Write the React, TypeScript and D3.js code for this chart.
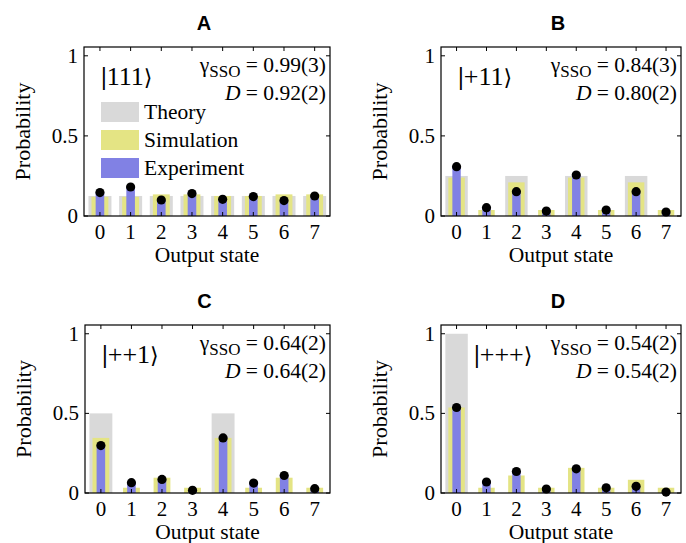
import React from 'react';
import * as d3 from 'd3';

// output states 0..7
const states = [0, 1, 2, 3, 4, 5, 6, 7];
const yTicks = [0, 0.5, 1];

// panel A |111>
const theoryA = [0.125, 0.125, 0.125, 0.125, 0.125, 0.125, 0.125, 0.125];
const simA = [0.12, 0.12, 0.135, 0.135, 0.125, 0.125, 0.135, 0.135];
const expA = [0.146, 0.181, 0.1, 0.14, 0.104, 0.121, 0.096, 0.125];

// panel B |+11>
const theoryB = [0.25, 0, 0.25, 0, 0.25, 0, 0.25, 0];
const simB = [0.24, 0.0375, 0.21, 0.0375, 0.24, 0.0375, 0.21, 0.0375];
const expB = [0.308, 0.052, 0.152, 0.031, 0.256, 0.0375, 0.152, 0.025];

// panel C |++1>
const theoryC = [0.5, 0, 0, 0, 0.5, 0, 0, 0];
const simC = [0.346, 0.033, 0.096, 0.033, 0.346, 0.033, 0.096, 0.033];
const expC = [0.298, 0.065, 0.085, 0.017, 0.346, 0.0625, 0.11, 0.027];

// panel D |+++>
const theoryD = [1, 0, 0, 0, 0, 0, 0, 0];
const simD = [0.537, 0.033, 0.11, 0.033, 0.158, 0.033, 0.083, 0.033];
const expD = [0.537, 0.069, 0.135, 0.025, 0.152, 0.033, 0.042, 0.006];

const legendLabels = ['Theory', 'Simulation', 'Experiment'];

const GRAY = '#d9d9d9';
const YELLOW = '#e4e484';
const BLUE = '#8181e4';
const SERIF = '"Liberation Serif", "Times New Roman", serif';

type PanelProps = {
  title: string;
  ket: string;
  gamma: string;
  dist: string;
  theory: number[];
  sim: number[];
  exp: number[];
  left: number;
  right: number;
  top: number;
  bottom: number;
  ketX: number;
  legend?: boolean;
};

const Panel = ({ title, ket, gamma, dist, theory, sim, exp, left, right, top, bottom, ketX, legend }: PanelProps) => {
  const x = d3.scaleLinear().domain([-0.52, 7.5]).range([left, right]);
  const y = d3.scaleLinear().domain([0, 1.055]).range([bottom, top]);
  const unit = x(1) - x(0);
  const colors = [GRAY, YELLOW, BLUE];

  return (
    <g>
      <text x={(left + right) / 2 - 3} y={top - 17} textAnchor="middle"
        fontFamily='"Liberation Sans", Arial, sans-serif' fontWeight="bold" fontSize={20}>{title}</text>

      {/* theory / simulation / experiment bars */}
      {states.map((s, i) => (
        <g key={s}>
          <rect x={x(s) - unit * 0.375} width={unit * 0.75} y={y(theory[i])} height={bottom - y(theory[i])} fill={GRAY} />
          <rect x={x(s) - unit * 0.275} width={unit * 0.55} y={y(sim[i])} height={bottom - y(sim[i])} fill={YELLOW} />
          <rect x={x(s) - unit * 0.14} width={unit * 0.28} y={y(exp[i])} height={bottom - y(exp[i])} fill={BLUE} />
          <circle cx={x(s)} cy={y(exp[i])} r={4.6} fill="#000" />
        </g>
      ))}

      {/* axes box with inward ticks */}
      <rect x={left} y={top} width={right - left} height={bottom - top} fill="none" stroke="#000" strokeWidth={1.2} />
      {states.map(s => (
        <g key={'xt' + s}>
          <line x1={x(s)} x2={x(s)} y1={top} y2={top + 4} stroke="#000" />
          <line x1={x(s)} x2={x(s)} y1={bottom} y2={bottom - 4} stroke="#000" />
          <text x={x(s)} y={bottom + 23} textAnchor="middle" fontFamily={SERIF} fontSize={21}>{s}</text>
        </g>
      ))}
      {yTicks.map(t => (
        <g key={'yt' + t}>
          <line x1={left} x2={left + 4} y1={y(t)} y2={y(t)} stroke="#000" />
          <line x1={right} x2={right - 4} y1={y(t)} y2={y(t)} stroke="#000" />
          <text x={left - 6} y={y(t) + 7} textAnchor="end" fontFamily={SERIF} fontSize={21}>{t}</text>
        </g>
      ))}

      <text x={(left + right) / 2} y={bottom + 45.5} textAnchor="middle" fontFamily={SERIF} fontSize={21.5}>Output state</text>
      <text transform={`translate(${left - 54},${(top + bottom) / 2}) rotate(-90)`} textAnchor="middle"
        fontFamily={SERIF} fontSize={22}>Probability</text>

      <text x={ketX} y={top + 38} fontFamily={SERIF} fontSize={26}>
        <tspan fontWeight="bold">|</tspan>{ket}<tspan fontFamily='"DejaVu Serif", serif' fontSize={22}>⟩</tspan>
      </text>

      <text x={right - 4} y={top + 25} textAnchor="end" fontFamily={SERIF} fontSize={21.5}>
        γ<tspan fontSize={17} dy={5}>SSO</tspan><tspan dy={-5}>{' = ' + gamma}</tspan>
      </text>
      <text x={right - 4} y={top + 53} textAnchor="end" fontFamily={SERIF} fontSize={21.5}>
        <tspan fontStyle="italic">D</tspan>{' = ' + dist}
      </text>

      {legend && legendLabels.map((l, i) => (
        <g key={l}>
          <rect x={left + 17} y={top + 55 + i * 28} width={38} height={20} fill={colors[i]} />
          <text x={left + 60} y={top + 72 + i * 28} fontFamily={SERIF} fontSize={21.5}>{l}</text>
        </g>
      ))}
    </g>
  );
};

const App = () => (
  <svg width={686} height={543} style={{ position: 'absolute', left: 0, top: 0, background: '#fff' }}>
    <Panel title="A" ket="111" gamma="0.99(3)" dist="0.92(2)" theory={theoryA} sim={simA} exp={expA}
      left={84} right={330} top={47} bottom={216} ketX={101} legend />
    <Panel title="B" ket="+11" gamma="0.84(3)" dist="0.80(2)" theory={theoryB} sim={simB} exp={expB}
      left={441} right={681} top={47} bottom={216} ketX={458} />
    <Panel title="C" ket="++1" gamma="0.64(2)" dist="0.64(2)" theory={theoryC} sim={simC} exp={expC}
      left={85} right={330} top={325} bottom={493} ketX={102} />
    <Panel title="D" ket="+++" gamma="0.54(2)" dist="0.54(2)" theory={theoryD} sim={simD} exp={expD}
      left={441} right={681} top={325} bottom={493} ketX={474} />
  </svg>
);

export default App;
